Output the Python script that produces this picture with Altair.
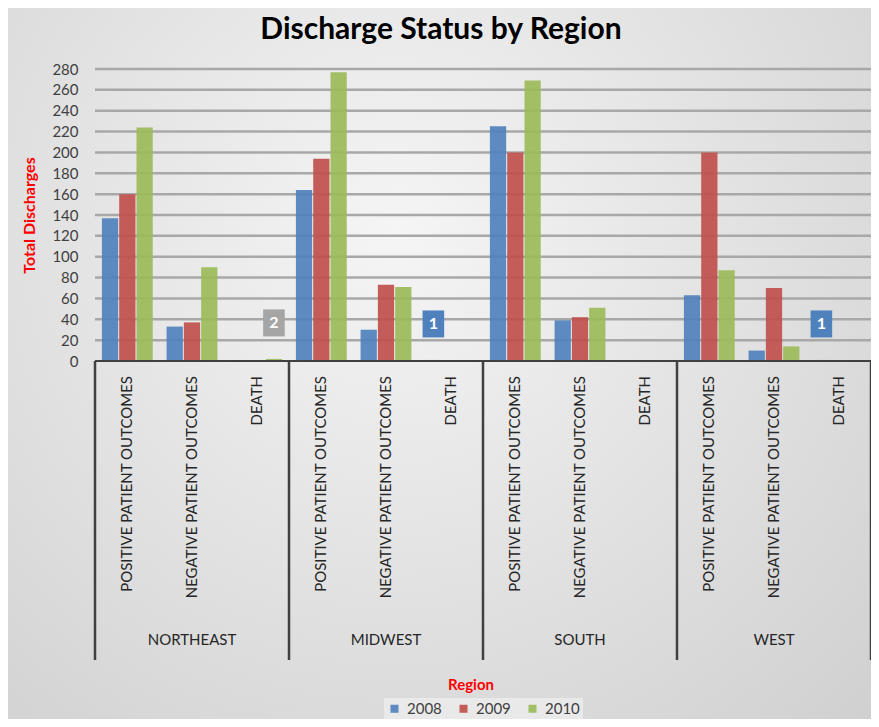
import altair as alt
import pandas as pd

title_text = "Discharge Status by Region"
regions = ["NORTHEAST", "MIDWEST", "SOUTH", "WEST"]
statuses = ["POSITIVE PATIENT OUTCOMES", "NEGATIVE PATIENT OUTCOMES", "DEATH"]
years = ["2008", "2009", "2010"]
year_colors = ["#4f81bd", "#c0504d", "#9bbb59"]

# values per region in order: positive, negative, death
values_2008 = [137, 33, 0, 164, 30, 1, 225, 39, 0, 63, 10, 1]
values_2009 = [160, 37, 0, 194, 73, 0, 200, 42, 0, 200, 70, 0]
values_2010 = [224, 90, 2, 277, 71, 0, 269, 51, 0, 87, 14, 0]

# data labels shown on the chart
label_region = ["NORTHEAST", "MIDWEST", "WEST"]
label_status = ["DEATH", "DEATH", "DEATH"]
label_year = ["2010", "2008", "2008"]
label_value = [2, 1, 1]
label_fill = ["#a5a5a5", "#4f81bd", "#4f81bd"]

y_ticks = list(range(0, 281, 20))

W, H = 776, 292

keys = [f"{r} | {s}" for r in regions for s in statuses]
rows = []
for yr, vals in zip(years, [values_2008, values_2009, values_2010]):
    for k, v in zip(keys, vals):
        rows.append({"key": k, "year": yr, "value": v})
df = pd.DataFrame(rows)

cats = pd.DataFrame({"key": keys, "status": [s for r in regions for s in statuses]})
reg = pd.DataFrame({"key": [f"{r} | {statuses[1]}" for r in regions], "region": regions})
starts = pd.DataFrame({"key": [f"{r} | {statuses[0]}" for r in regions]})
ends = pd.DataFrame({"key": [keys[-1]]})
labs = pd.DataFrame({
    "key": [f"{r} | {s}" for r, s in zip(label_region, label_status)],
    "year": label_year,
    "value": label_value,
    "text": [str(v) for v in label_value],
    "fill": label_fill,
})
grid = pd.DataFrame({"value": y_ticks[1:]})
zero = pd.DataFrame({"value": [0]})

FONT = "Lato"

xscale = alt.Scale(paddingInner=0, paddingOuter=0)
X = alt.X("key:N", sort=keys, axis=None, scale=xscale)
XO = alt.XOffset("year:N", sort=years, scale=alt.Scale(paddingInner=0.06, paddingOuter=0.4))
yscale = alt.Scale(domain=[0, 280], nice=False)
yaxis = alt.Axis(values=y_ticks, tickCount=15, grid=False, domain=False, ticks=False,
                 labelOverlap=False,
                 labelFont=FONT, labelFontSize=15, labelColor="#404040",
                 labelPadding=17, title="Total Discharges", titleColor="#ff0000",
                 titleFont=FONT, titleFontSize=16, titleFontWeight="bold",
                 titlePadding=14, zindex=1)
Y = alt.Y("value:Q", scale=yscale, axis=yaxis)

bg = alt.Chart(zero).mark_rect(
    color=alt.RadialGradient(
        gradient="radial",
        stops=[alt.GradientStop(offset=0, color="#f5f5f5"),
               alt.GradientStop(offset=1, color="#cdcdcd")],
        x1=0.45, y1=0.35, r1=0, x2=0.45, y2=0.35, r2=0.85,
    )
).encode(x=alt.value(-87), x2=alt.value(W), y=alt.value(-61), y2=alt.value(650))

gridlines = alt.Chart(grid).mark_rule(color="#a8a8a8", strokeWidth=2.5).encode(
    y=Y, x=alt.value(0), x2=alt.value(W)
)

bars = alt.Chart(df).mark_bar(opacity=0.92).encode(
    x=X,
    xOffset=XO,
    y=Y,
    color=alt.Color("year:N", scale=alt.Scale(domain=years, range=year_colors),
                    title=None,
                    legend=alt.Legend(orient="none", direction="horizontal",
                                      legendX=289, legendY=629, symbolType="square",
                                      symbolSize=64, symbolStrokeWidth=0,
                                      labelFont=FONT, labelFontSize=15,
                                      labelColor="#404040", labelOffset=5,
                                      columnPadding=14, padding=3,
                                      fillColor="#e9e9e9", zindex=1)),
)

baseline = alt.Chart(zero).mark_rule(color="#404040", strokeWidth=2).encode(
    y=Y, x=alt.value(0), x2=alt.value(W)
)

sep_start = alt.Chart(starts).mark_rule(color="#404040", strokeWidth=2.5).encode(
    x=alt.X("key:N", sort=keys, bandPosition=0, axis=None, scale=xscale),
    y=alt.value(H), y2=alt.value(591)
)
sep_end = alt.Chart(ends).mark_rule(color="#404040", strokeWidth=2.5).encode(
    x=alt.X("key:N", sort=keys, bandPosition=1, axis=None, scale=xscale),
    y=alt.value(H), y2=alt.value(591)
)

cat_text = alt.Chart(cats).mark_text(
    angle=270, align="right", baseline="middle", font=FONT, fontSize=15, color="#262626"
).encode(x=X, y=alt.value(307), text="status:N")

reg_text = alt.Chart(reg).mark_text(
    align="center", baseline="middle", font=FONT, fontSize=15, color="#262626"
).encode(x=X, y=alt.value(571), text="region:N")

xtitle = alt.Chart(zero).mark_text(
    text="Region", align="center", baseline="middle", font=FONT, fontSize=15,
    fontWeight="bold", color="#ff0000"
).encode(x=alt.value(376), y=alt.value(616))

main_title = alt.Chart(zero).mark_text(
    text=title_text, align="center", baseline="alphabetic", font=FONT, fontSize=30,
    fontWeight="bold", color="#000000"
).encode(x=alt.value(346), y=alt.value(-30))

lab_box = alt.Chart(labs).mark_point(
    shape="M-0.8,-1H0.8V1H-0.8Z", filled=True, size=729, opacity=1, yOffset=-36
).encode(x=X, xOffset=XO, y=Y, fill=alt.Fill("fill:N", scale=None))

lab_text = alt.Chart(labs).mark_text(
    color="white", font=FONT, fontSize=16, fontWeight="bold", baseline="middle", dy=-36
).encode(x=X, xOffset=XO, y=Y, text="text:N")

chart = alt.layer(
    bg, gridlines, bars, baseline, sep_start, sep_end, cat_text, reg_text, xtitle,
    main_title, lab_box, lab_text
).properties(
    width=W, height=H,
    padding={"left": 87, "top": 61, "right": 0, "bottom": 358},
    autosize=alt.AutoSizeParams(type="none"),
).configure_view(stroke=None).configure(background="#e3e3e3")

chart.save("out.html", embed_options={"renderer": "svg", "actions": False})
